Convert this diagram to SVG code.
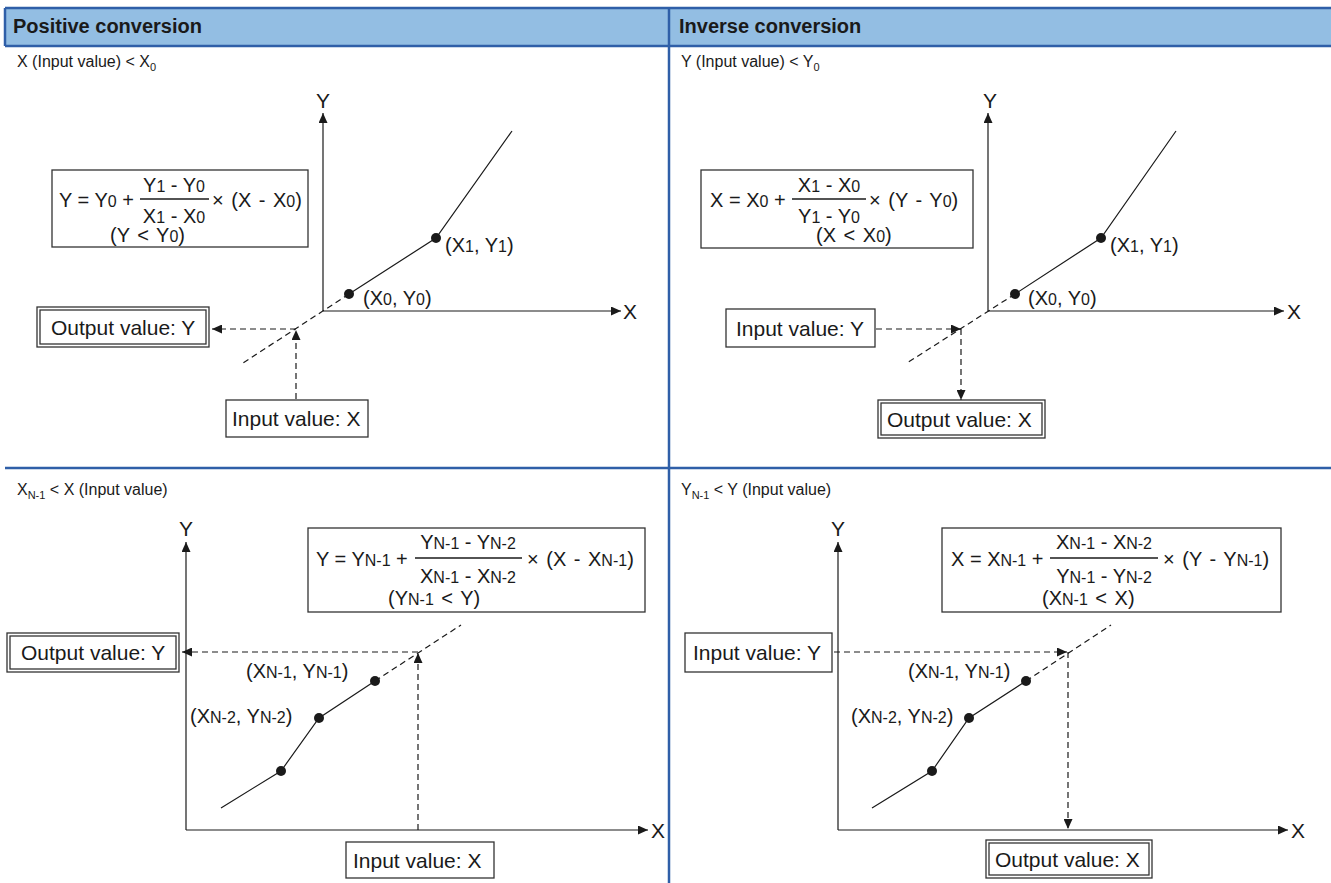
<svg xmlns="http://www.w3.org/2000/svg" width="1331" height="883" viewBox="0 0 1331 883">
<defs>
<marker id="ah" markerUnits="userSpaceOnUse" markerWidth="11" markerHeight="9" refX="10" refY="4.5" orient="auto">
<path d="M0,0 L10,4.5 L0,9 z" fill="#1a1a1a"/>
</marker>
<style>
text{font-family:"Liberation Sans",Arial,Helvetica,sans-serif;fill:#1a1a1a}
.hd{font-size:20px;font-weight:bold}
.sl{font-size:16px}
.lb{font-size:21px}
.f{font-size:20px}
.w{word-spacing:2px}
.s{font-size:16px}
.ss{font-size:11px}
.box{fill:#fff;stroke:#333;stroke-width:1.3}
.ax{stroke:#1a1a1a;stroke-width:1.2;fill:none}
.ds{stroke:#1a1a1a;stroke-width:1.2;fill:none;stroke-dasharray:6 4}
.bar{stroke:#1a1a1a;stroke-width:1.5}
.dot{fill:#1a1a1a}
.tl{stroke:#2f5fa8;stroke-width:2.5;fill:none}
</style>
</defs>
<rect width="1331" height="883" fill="#fff"/>

<g id="table">
<rect x="5" y="8" width="1326" height="38" fill="#93bee3"/>
<line class="tl" x1="5" y1="8" x2="1331" y2="8"/>
<line class="tl" x1="5" y1="46" x2="1331" y2="46"/>
<line class="tl" x1="5" y1="8" x2="5" y2="46"/>
<line class="tl" x1="669" y1="8" x2="669" y2="883"/>
<line class="tl" x1="5" y1="468" x2="1331" y2="468"/>
<text class="hd" x="13" y="33">Positive conversion</text>
<text class="hd" x="679" y="33">Inverse conversion</text>
<text class="sl" x="17" y="67">X (Input value) &lt; X<tspan class="ss" dy="4">0</tspan></text>
<text class="sl" x="681" y="67">Y (Input value) &lt; Y<tspan class="ss" dy="4">0</tspan></text>
<text class="sl" x="17" y="495">X<tspan class="ss" dy="4">N-1</tspan><tspan dy="-4"> &lt; X (Input value)</tspan></text>
<text class="sl" x="681" y="495">Y<tspan class="ss" dy="4">N-1</tspan><tspan dy="-4"> &lt; Y (Input value)</tspan></text>
</g>

<g id="connectors">
<!-- top-left -->
<line class="ax" x1="323" y1="311" x2="323" y2="113" marker-end="url(#ah)"/>
<line class="ax" x1="323" y1="311" x2="621" y2="311" marker-end="url(#ah)"/>
<polyline class="ax" points="349,294 436,238 512,131"/>
<line class="ds" x1="349" y1="294" x2="243" y2="363"/>
<line class="ds" x1="296" y1="329" x2="212" y2="329" marker-end="url(#ah)"/>
<line class="ds" x1="296" y1="399" x2="296" y2="330" marker-end="url(#ah)"/>
<!-- top-right -->
<line class="ax" x1="988" y1="311" x2="988" y2="113" marker-end="url(#ah)"/>
<line class="ax" x1="988" y1="311" x2="1284" y2="311" marker-end="url(#ah)"/>
<polyline class="ax" points="1015,294 1101,238 1176,131"/>
<line class="ds" x1="1015" y1="294" x2="907" y2="363"/>
<line class="ds" x1="876" y1="329" x2="961" y2="329" marker-end="url(#ah)"/>
<line class="ds" x1="961" y1="329" x2="961" y2="400" marker-end="url(#ah)"/>
<!-- bottom-left -->
<line class="ax" x1="186" y1="830" x2="186" y2="542" marker-end="url(#ah)"/>
<line class="ax" x1="186" y1="830" x2="648" y2="830" marker-end="url(#ah)"/>
<polyline class="ax" points="221,808 281,771 319,718 375,681"/>
<line class="ds" x1="375" y1="681" x2="461" y2="625"/>
<line class="ds" x1="418" y1="652" x2="182" y2="652" marker-end="url(#ah)"/>
<line class="ds" x1="418" y1="830" x2="418" y2="653" marker-end="url(#ah)"/>
<!-- bottom-right -->
<line class="ax" x1="838" y1="830" x2="838" y2="542" marker-end="url(#ah)"/>
<line class="ax" x1="838" y1="830" x2="1288" y2="830" marker-end="url(#ah)"/>
<polyline class="ax" points="872,808 932,771 969,718 1026,681"/>
<line class="ds" x1="1026" y1="681" x2="1111" y2="625"/>
<line class="ds" x1="834" y1="652" x2="1067" y2="652" marker-end="url(#ah)"/>
<line class="ds" x1="1068" y1="652" x2="1068" y2="829" marker-end="url(#ah)"/>
</g>

<g id="points">
<circle class="dot" cx="349" cy="294" r="5"/>
<circle class="dot" cx="436" cy="238" r="5"/>
<circle class="dot" cx="1015" cy="294" r="5"/>
<circle class="dot" cx="1101" cy="238" r="5"/>
<circle class="dot" cx="281" cy="771" r="5"/>
<circle class="dot" cx="319" cy="718" r="5"/>
<circle class="dot" cx="375" cy="681" r="5"/>
<circle class="dot" cx="932" cy="771" r="5"/>
<circle class="dot" cx="969" cy="718" r="5"/>
<circle class="dot" cx="1026" cy="681" r="5"/>
</g>

<g id="axis-labels">
<text class="lb" x="323" y="108" text-anchor="middle">Y</text>
<text class="lb" x="623" y="319">X</text>
<text class="lb" x="990" y="108" text-anchor="middle">Y</text>
<text class="lb" x="1287" y="319">X</text>
<text class="lb" x="186" y="536" text-anchor="middle">Y</text>
<text class="lb" x="651" y="838">X</text>
<text class="lb" x="838" y="536" text-anchor="middle">Y</text>
<text class="lb" x="1291" y="838">X</text>
<text class="f" x="363" y="305">(X<tspan class="s">0</tspan>, Y<tspan class="s">0</tspan>)</text>
<text class="f" x="445" y="252">(X<tspan class="s">1</tspan>, Y<tspan class="s">1</tspan>)</text>
<text class="f" x="1028" y="305">(X<tspan class="s">0</tspan>, Y<tspan class="s">0</tspan>)</text>
<text class="f" x="1110" y="252">(X<tspan class="s">1</tspan>, Y<tspan class="s">1</tspan>)</text>
<text class="f" x="246" y="678">(X<tspan class="s">N-1</tspan>, Y<tspan class="s">N-1</tspan>)</text>
<text class="f" x="190" y="723">(X<tspan class="s">N-2</tspan>, Y<tspan class="s">N-2</tspan>)</text>
<text class="f" x="908" y="678">(X<tspan class="s">N-1</tspan>, Y<tspan class="s">N-1</tspan>)</text>
<text class="f" x="851" y="723">(X<tspan class="s">N-2</tspan>, Y<tspan class="s">N-2</tspan>)</text>
</g>

<g id="formula-tl">
<rect class="box" x="52" y="170" width="256" height="77"/>
<text class="f" x="59" y="207">Y = Y<tspan class="s">0</tspan> +</text>
<line class="bar" x1="140" y1="199" x2="209" y2="199"/>
<text class="f" x="174" y="192" text-anchor="middle">Y<tspan class="s">1</tspan> - Y<tspan class="s">0</tspan></text>
<text class="f" x="174" y="223" text-anchor="middle">X<tspan class="s">1</tspan> - X<tspan class="s">0</tspan></text>
<text class="f w" x="212" y="207">× (X - X<tspan class="s">0</tspan>)</text>
<text class="f w" x="110" y="242">(Y &lt; Y<tspan class="s">0</tspan>)</text>
</g>

<g id="output-y-tl">
<rect class="box" x="37" y="307" width="172" height="40"/>
<rect class="box" x="40" y="310" width="166" height="34"/>
<text class="lb" x="51" y="335">Output value: Y</text>
</g>

<g id="input-x-tl">
<rect class="box" x="226" y="400" width="142" height="37"/>
<text class="lb" x="232" y="426">Input value: X</text>
</g>

<g id="formula-tr">
<rect class="box" x="701" y="170" width="272" height="78"/>
<text class="f" x="710" y="207">X = X<tspan class="s">0</tspan> +</text>
<line class="bar" x1="792" y1="199" x2="866" y2="199"/>
<text class="f" x="829" y="192" text-anchor="middle">X<tspan class="s">1</tspan> - X<tspan class="s">0</tspan></text>
<text class="f" x="829" y="223" text-anchor="middle">Y<tspan class="s">1</tspan> - Y<tspan class="s">0</tspan></text>
<text class="f w" x="869" y="207">× (Y - Y<tspan class="s">0</tspan>)</text>
<text class="f w" x="816" y="242">(X &lt; X<tspan class="s">0</tspan>)</text>
</g>

<g id="input-y-tr">
<rect class="box" x="726" y="309" width="149" height="38"/>
<text class="lb" x="736" y="336">Input value: Y</text>
</g>

<g id="output-x-tr">
<rect class="box" x="878" y="400" width="167" height="38"/>
<rect class="box" x="881" y="403" width="161" height="32"/>
<text class="lb" x="887" y="427">Output value: X</text>
</g>

<g id="formula-bl">
<rect class="box" x="308" y="528" width="337" height="84"/>
<text class="f" x="316" y="566">Y = Y<tspan class="s">N-1</tspan> +</text>
<line class="bar" x1="415" y1="558" x2="522" y2="558"/>
<text class="f" x="468" y="549" text-anchor="middle">Y<tspan class="s">N-1</tspan> - Y<tspan class="s">N-2</tspan></text>
<text class="f" x="468" y="583" text-anchor="middle">X<tspan class="s">N-1</tspan> - X<tspan class="s">N-2</tspan></text>
<text class="f w" x="527" y="566">× (X - X<tspan class="s">N-1</tspan>)</text>
<text class="f w" x="388" y="605">(Y<tspan class="s">N-1</tspan> &lt; Y)</text>
</g>

<g id="output-y-bl">
<rect class="box" x="7" y="633" width="172" height="39"/>
<rect class="box" x="10" y="636" width="166" height="33"/>
<text class="lb" x="21" y="660">Output value: Y</text>
</g>

<g id="input-x-bl">
<rect class="box" x="346" y="842" width="148" height="36"/>
<text class="lb" x="353" y="868">Input value: X</text>
</g>

<g id="formula-br">
<rect class="box" x="942" y="528" width="339" height="84"/>
<text class="f" x="951" y="566">X = X<tspan class="s">N-1</tspan> +</text>
<line class="bar" x1="1050" y1="558" x2="1158" y2="558"/>
<text class="f" x="1104" y="549" text-anchor="middle">X<tspan class="s">N-1</tspan> - X<tspan class="s">N-2</tspan></text>
<text class="f" x="1104" y="583" text-anchor="middle">Y<tspan class="s">N-1</tspan> - Y<tspan class="s">N-2</tspan></text>
<text class="f w" x="1163" y="566">× (Y - Y<tspan class="s">N-1</tspan>)</text>
<text class="f w" x="1042" y="605">(X<tspan class="s">N-1</tspan> &lt; X)</text>
</g>

<g id="input-y-br">
<rect class="box" x="685" y="633" width="147" height="39"/>
<text class="lb" x="693" y="660">Input value: Y</text>
</g>

<g id="output-x-br">
<rect class="box" x="986" y="840" width="166" height="38"/>
<rect class="box" x="989" y="843" width="160" height="32"/>
<text class="lb" x="995" y="867">Output value: X</text>
</g>
</svg>
